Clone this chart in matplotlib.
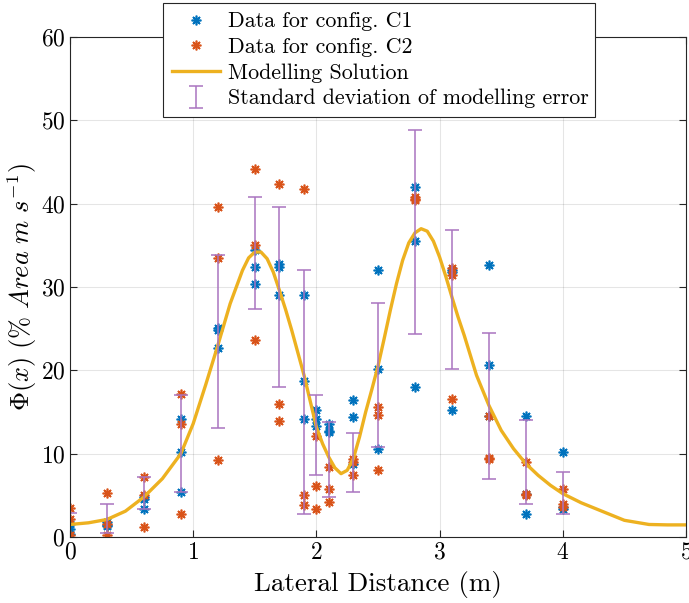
import numpy as np
import matplotlib
matplotlib.use('Agg')
import matplotlib.pyplot as plt

plt.rcParams['font.family'] = 'serif'
plt.rcParams['font.serif'] = ['cmr10', 'DejaVu Serif']
plt.rcParams['mathtext.fontset'] = 'cm'
plt.rcParams['axes.formatter.use_mathtext'] = True

# measurement positions (m)
x_pos = [0, 0.3, 0.6, 0.9, 1.2, 1.5, 1.7, 1.9, 2.0, 2.1, 2.3, 2.5, 2.8, 3.1, 3.4, 3.7, 4.0]

# three repeats per position, config C1
c1_vals = [[1.5, 0.9, 0.4], [1.8, 1.4, 1.3], [4.8, 3.3, 4.6], [14.2, 10.2, 5.4],
           [24.9, 22.7, 25.1], [34.5, 32.4, 30.4], [32.8, 32.4, 29.0],
           [29.0, 18.7, 14.2], [15.2, 14.2, 13.3], [13.6, 12.7, 12.6],
           [16.4, 14.4, 8.7], [32.0, 20.2, 10.6], [42.0, 35.5, 18.0],
           [32.0, 15.3, 31.8], [32.7, 20.6, 14.5], [14.5, 2.8, 5.1],
           [10.2, 3.3, 3.6]]

# config C2
c2_vals = [[3.5, 2.1, 0.2], [5.3, 0.2, 1.6], [7.2, 1.2, 5.0], [17.2, 13.6, 2.8],
           [39.6, 33.5, 9.2], [44.2, 35.1, 23.6], [42.4, 16.0, 13.9],
           [41.8, 5.0, 3.8], [12.1, 6.1, 3.4], [8.4, 5.7, 4.2],
           [9.4, 7.4, 9.0], [15.6, 14.6, 8.0], [40.8, 40.4, 40.6],
           [32.3, 31.4, 16.6], [14.5, 9.4, 9.5], [9.0, 5.2, 5.0],
           [5.8, 4.0, 3.6]]

# error bar centre and std of modelling error
err_mid = [1.3, 2.25, 5.25, 11.2, 23.45, 34.1, 28.8, 17.35, 12.2, 9.3, 8.95,
           19.45, 36.6, 28.5, 15.75, 8.95, 5.3]
err_std = [1.6, 1.75, 1.95, 5.8, 10.35, 6.7, 10.8, 14.65, 4.8, 4.5, 3.55,
           8.65, 12.2, 8.3, 8.75, 5.05, 2.5]

# modelling solution
model_x = [0, 0.15, 0.3, 0.45, 0.6, 0.75, 0.9, 1.0, 1.1, 1.2, 1.3, 1.4, 1.45,
           1.5, 1.55, 1.6, 1.65, 1.7, 1.75, 1.8, 1.9, 2.0, 2.05, 2.1, 2.15,
           2.2, 2.25, 2.3, 2.35, 2.4, 2.45, 2.5, 2.55, 2.6, 2.65, 2.7, 2.75,
           2.8, 2.85, 2.9, 2.95, 3.0, 3.05, 3.1, 3.15, 3.2, 3.3, 3.4, 3.5,
           3.6, 3.7, 3.8, 3.9, 4.0, 4.15, 4.3, 4.5, 4.7, 4.85, 5.0]
model_y = [1.5, 1.7, 2.1, 3.1, 4.8, 7.0, 10.0, 13.6, 18.2, 23.0, 28.0, 32.0,
           33.5, 34.2, 34.2, 33.4, 31.8, 29.6, 27.3, 24.8, 19.4, 13.2, 11.2,
           9.6, 8.3, 7.6, 8.0, 9.4, 12.0, 15.0, 17.7, 20.5, 23.8, 27.2, 30.4,
           33.2, 35.3, 36.5, 37.0, 36.7, 35.5, 33.6, 31.3, 28.8, 26.4, 24.2,
           19.4, 15.8, 12.8, 10.6, 8.8, 7.4, 6.2, 5.2, 4.1, 3.2, 2.0, 1.5,
           1.45, 1.45]

blue = '#0072BD'
red = '#D95319'
yellow = '#EDB120'
purple = '#A974C0'

fig = plt.figure(figsize=(6.89, 6.03), dpi=100)
ax = fig.add_axes([0.1016, 0.1095, 0.894, 0.829])

star = (8, 2, 0)
xs1 = np.repeat(x_pos, [len(v) for v in c1_vals])
xs2 = np.repeat(x_pos, [len(v) for v in c2_vals])
ax.plot(xs1, np.concatenate(c1_vals), ls='none', marker=star, ms=7, mew=1.2,
        color=blue, label='Data for config. C1')
ax.plot(xs2, np.concatenate(c2_vals), ls='none', marker=star, ms=7, mew=1.2,
        color=red, label='Data for config. C2')
ax.plot(model_x, model_y, color=yellow, lw=2.4, label='Modelling Solution')
ax.errorbar(x_pos, err_mid, yerr=err_std, fmt='none', ecolor=purple,
            elinewidth=1.1, capsize=5, capthick=1.1,
            label='Standard deviation of modelling error')

ax.set_xlim(0, 5)
ax.set_ylim(0, 60)
ax.set_xticks(range(0, 6))
ax.set_yticks(range(0, 61, 10))
ax.tick_params(direction='in', top=True, right=True, length=5, labelsize=17,
               color='#262626')
for s in ax.spines.values():
    s.set_color('#262626')
    s.set_linewidth(0.8)
ax.grid(True, color='#000000', alpha=0.1, lw=0.8)
ax.set_axisbelow(True)

ax.set_xlabel('Lateral Distance (m)', fontsize=19.5, labelpad=5)
ax.set_ylabel(r'$\Phi(x)\ (\%\ Area\ m\ s^{-1})$', fontsize=19, labelpad=1)

leg = fig.legend(loc='upper left', bbox_to_anchor=(0.2366, 0.995, 0.627, 0.0),
                 mode='expand', fontsize=15.8, frameon=True, fancybox=False,
                 framealpha=1, edgecolor='#262626', borderpad=0.4,
                 labelspacing=0.28, handlelength=2.2, handletextpad=0.35,
                 borderaxespad=0)
leg.get_frame().set_linewidth(0.8)

fig.savefig('out.png', dpi=100)
